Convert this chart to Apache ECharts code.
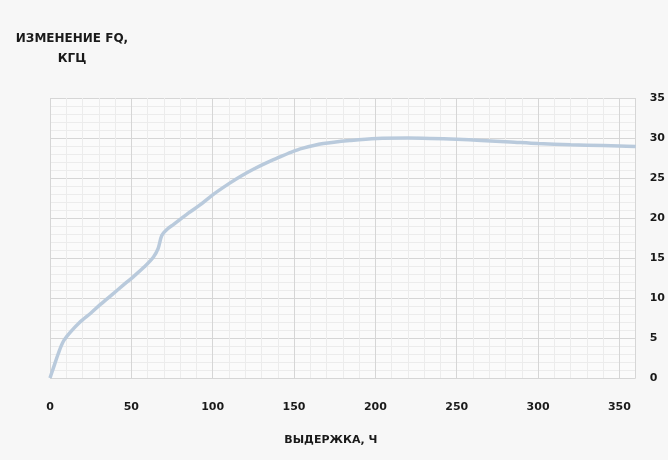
<!DOCTYPE html>
<html>
<head>
<meta charset="utf-8">
<script src="https://cdn.jsdelivr.net/npm/echarts@6/dist/echarts.min.js"></script>
<style>
html,body{margin:0;padding:0;background:#f7f7f7;}
#c{width:668px;height:460px;}
</style>
</head>
<body>
<div id="c"></div>
<script>
// Data
var hours = [0, 2, 5, 8, 12, 18, 25, 31, 38, 45, 52, 58, 63.5, 66.5, 68.7, 72, 76, 85, 92, 100, 110, 117, 125, 133, 141, 148, 155, 168, 185, 201, 220, 234, 250, 265, 283, 300, 320, 340, 350, 360];
var shiftKHz = [0, 1.2, 3.0, 4.5, 5.6, 6.9, 8.1, 9.2, 10.4, 11.6, 12.8, 13.9, 15.1, 16.2, 17.8, 18.6, 19.2, 20.6, 21.6, 22.9, 24.3, 25.2, 26.1, 26.9, 27.6, 28.2, 28.7, 29.3, 29.7, 29.95, 30.0, 29.95, 29.85, 29.7, 29.5, 29.3, 29.15, 29.05, 29.0, 28.95];
var xTicks = [0, 50, 100, 150, 200, 250, 300, 350];
var yTicks = [0, 5, 10, 15, 20, 25, 30, 35];
var titleText = 'ИЗМЕНЕНИЕ FQ,\nКГЦ';
var xName = 'ВЫДЕРЖКА, Ч';

var points = hours.map(function (h, i) { return [h, shiftKHz[i]]; });
var chart = echarts.init(document.getElementById('c'), null, {renderer: 'canvas'});
var font = 'DejaVu Sans';
var lblStyle = {color: '#1a1a1a', fontWeight: 'bold', fontSize: 11, fontFamily: font};
chart.setOption({
  backgroundColor: '#f7f7f7',
  animation: false,
  title: {
    text: titleText,
    left: 67, top: 24,
    textAlign: 'center',
    textStyle: {fontSize: 12, fontWeight: 'bold', color: '#1a1a1a', fontFamily: font, lineHeight: 20}
  },
  grid: {left: 50, right: 31, top: 98, bottom: 82, show: true, backgroundColor: '#fbfbfb', borderWidth: 0},
  xAxis: {
    type: 'value', min: 0, max: 360, interval: 50,
    name: xName, nameLocation: 'middle', nameGap: 57,
    nameTextStyle: {color: '#1a1a1a', fontWeight: 'bold', fontSize: 11, fontFamily: font, padding: [0, 24, 0, 0]},
    axisLine: {show: false}, axisTick: {show: false},
    axisLabel: Object.assign({margin: 24, showMaxLabel: false, formatter: function (v) { return xTicks.indexOf(v) >= 0 ? String(v) : ''; }}, lblStyle),
    splitLine: {show: true, lineStyle: {color: '#d6d6d6', width: 1}},
    minorTick: {show: false, splitNumber: 5},
    minorSplitLine: {show: true, lineStyle: {color: '#ececec', width: 1}}
  },
  yAxis: {
    type: 'value', min: 0, max: 35, interval: 5, position: 'right',
    axisLine: {show: false}, axisTick: {show: false},
    axisLabel: Object.assign({margin: 14, formatter: function (v) { return yTicks.indexOf(v) >= 0 ? String(v) : ''; }}, lblStyle),
    splitLine: {show: true, lineStyle: {color: '#d6d6d6', width: 1}},
    minorTick: {show: false, splitNumber: 5},
    minorSplitLine: {show: true, lineStyle: {color: '#ececec', width: 1}}
  },
  series: [{
    type: 'line', data: points, smooth: 0.3, showSymbol: false,
    lineStyle: {color: '#b9cadc', width: 3.5}
  }]
});
</script>
</body>
</html>
